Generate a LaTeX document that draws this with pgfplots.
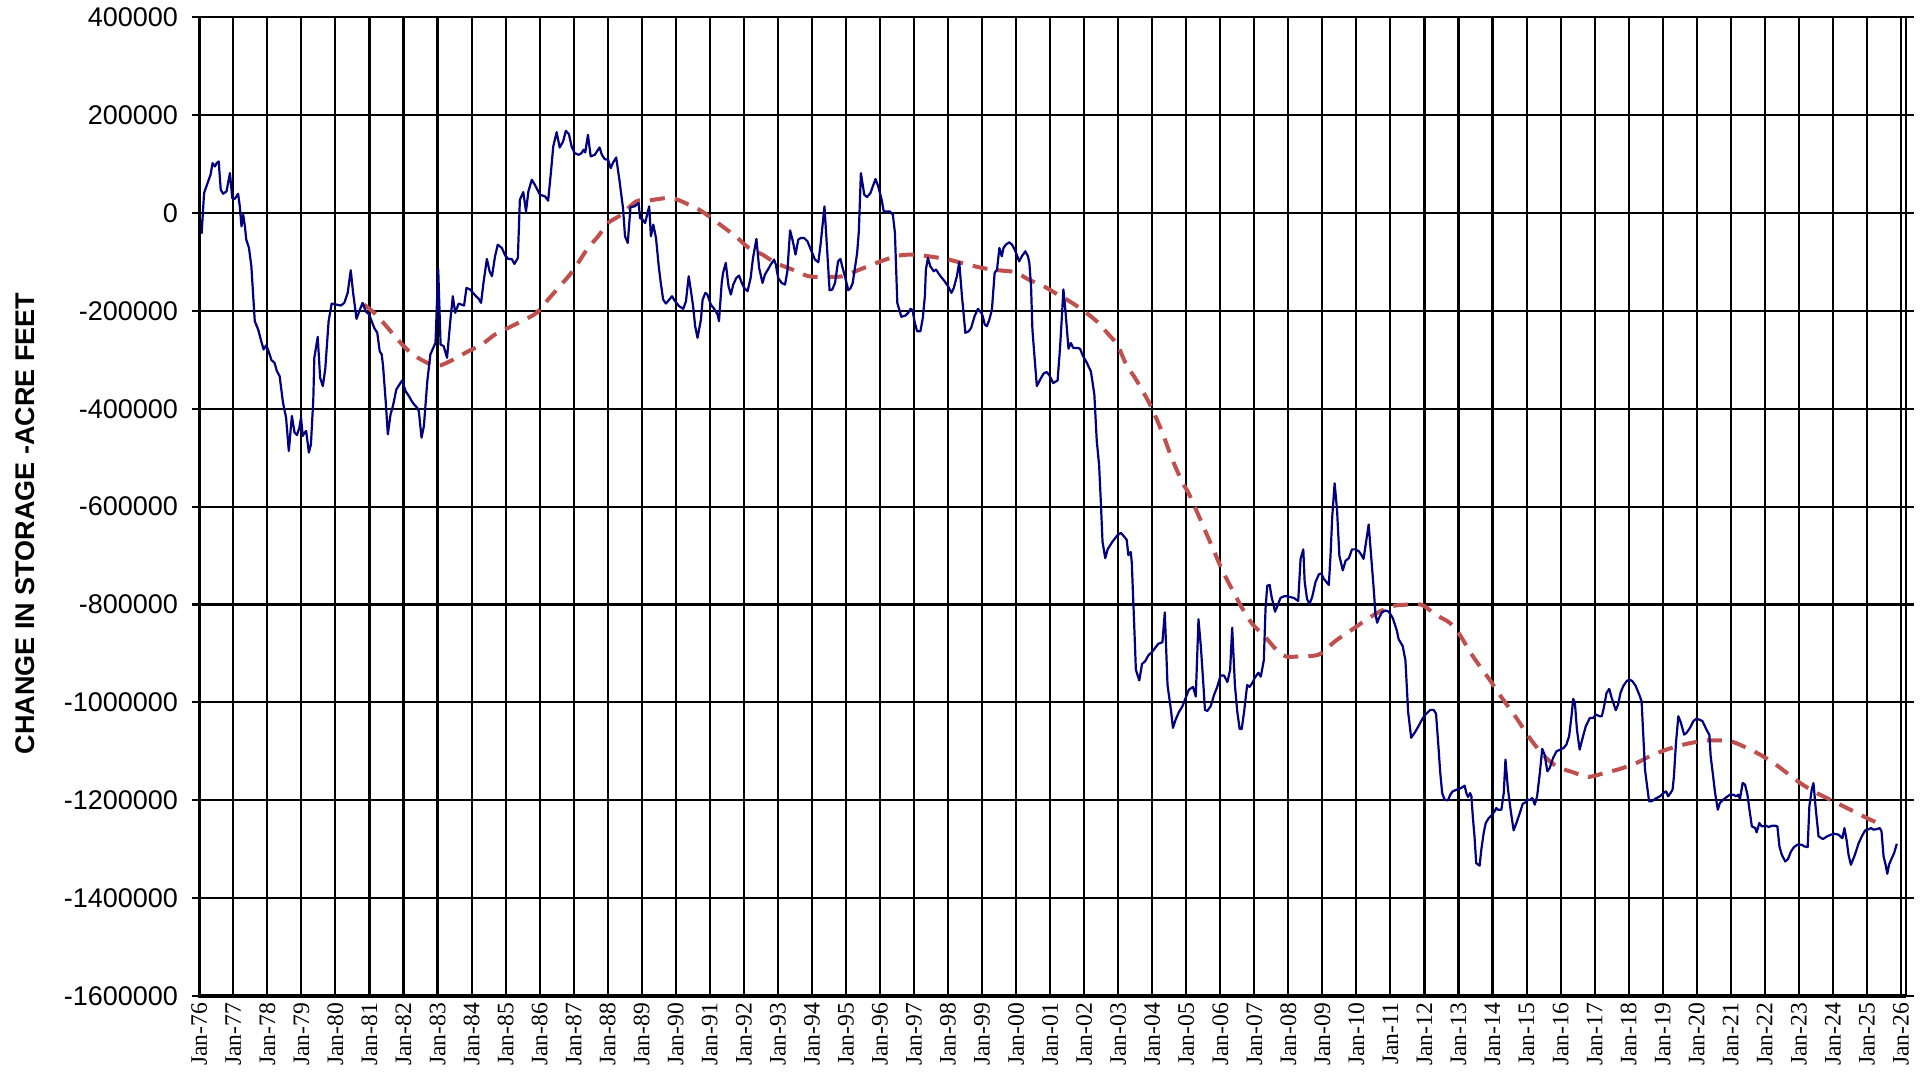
\documentclass[border=0pt]{standalone}
\usepackage{fontspec}
\setmainfont{Liberation Sans}
\newfontfamily\tnr{Liberation Serif}
\usepackage{pgfplots}
\usepackage{pgfplotstable}
\pgfplotsset{compat=1.18}
\definecolor{navyline}{RGB}{0,0,128}
\definecolor{trendred}{RGB}{192,80,77}

\pgfplotstableread{
t v
1976.00 -5000
1976.07 -40800
1976.14 40800
1976.26 64600
1976.33 78200
1976.39 102000
1976.46 95200
1976.51 102000
1976.57 105400
1976.63 47600
1976.70 39400
1976.80 44200
1976.90 81600
1976.97 30600
1977.04 28600
1977.14 39400
1977.19 13600
1977.24 -27200
1977.29 -3400
1977.34 -27200
1977.38 -54400
1977.46 -71400
1977.53 -108800
1977.63 -221000
1977.73 -238000
1977.82 -261800
1977.89 -278800
1977.97 -270000
1978.05 -285600
1978.12 -300600
1978.21 -306000
1978.28 -323000
1978.36 -333200
1978.46 -387600
1978.55 -418200
1978.63 -486200
1978.72 -414800
1978.80 -448800
1978.87 -453600
1978.94 -438600
1978.99 -418200
1979.04 -455600
1979.09 -448800
1979.14 -445400
1979.22 -489600
1979.28 -472600
1979.35 -380800
1979.38 -295800
1979.48 -253000
1979.55 -336600
1979.63 -353600
1979.70 -319600
1979.80 -221000
1979.89 -185000
1980.02 -187000
1980.16 -189000
1980.26 -183600
1980.36 -163200
1980.45 -117000
1980.52 -163200
1980.62 -216200
1980.72 -197200
1980.80 -183600
1980.89 -200600
1980.99 -207400
1981.14 -234600
1981.23 -244800
1981.30 -282200
1981.36 -289000
1981.40 -312800
1981.48 -387600
1981.54 -452200
1981.62 -411400
1981.69 -394400
1981.79 -360400
1981.96 -342000
1982.06 -363800
1982.16 -374000
1982.24 -384200
1982.31 -391000
1982.40 -397800
1982.45 -404600
1982.53 -459000
1982.60 -435200
1982.70 -343400
1982.79 -289000
1982.94 -265200
1983.02 -114200
1983.09 -268600
1983.18 -272000
1983.28 -295800
1983.38 -217600
1983.45 -170000
1983.52 -204000
1983.62 -185000
1983.78 -189000
1983.85 -153000
1983.96 -156400
1984.13 -170000
1984.21 -175400
1984.28 -183600
1984.35 -142800
1984.45 -93800
1984.53 -119000
1984.60 -129200
1984.69 -88400
1984.77 -64600
1984.89 -71400
1984.99 -87000
1985.08 -93800
1985.18 -93800
1985.26 -104000
1985.36 -91800
1985.42 27200
1985.52 42800
1985.60 3400
1985.67 44200
1985.77 68000
1985.86 57800
1986.01 37400
1986.16 34000
1986.25 25200
1986.33 81600
1986.40 136000
1986.50 165200
1986.59 134000
1986.69 146200
1986.77 168000
1986.86 161200
1986.94 136000
1987.03 122400
1987.15 119000
1987.23 122400
1987.29 129200
1987.34 123800
1987.42 159800
1987.50 115600
1987.62 119000
1987.76 134000
1987.83 119000
1987.91 110200
1988.01 108800
1988.09 91800
1988.15 102000
1988.25 113600
1988.35 64600
1988.45 10200
1988.51 -47600
1988.59 -61200
1988.67 12200
1988.79 13600
1988.91 20400
1988.95 -10200
1989.03 -13600
1989.10 -20400
1989.17 0
1989.22 13600
1989.27 -47600
1989.34 -23800
1989.42 -51000
1989.50 -108800
1989.56 -142800
1989.63 -176800
1989.71 -185000
1989.81 -176800
1989.89 -170000
1989.98 -180200
1990.10 -190400
1990.22 -195800
1990.30 -180200
1990.38 -129200
1990.44 -156400
1990.51 -190400
1990.57 -231200
1990.64 -255000
1990.74 -217600
1990.79 -176800
1990.87 -163200
1990.93 -166600
1991.03 -187000
1991.13 -195800
1991.23 -207400
1991.27 -221000
1991.35 -142800
1991.39 -122400
1991.47 -102000
1991.55 -149600
1991.62 -166600
1991.69 -146200
1991.78 -132600
1991.86 -127800
1991.94 -142800
1992.01 -153000
1992.11 -159800
1992.20 -132600
1992.27 -91800
1992.37 -53000
1992.45 -112200
1992.55 -142800
1992.62 -125800
1992.72 -114200
1992.79 -105400
1992.89 -95200
1992.94 -105400
1993.01 -132600
1993.11 -142800
1993.21 -146200
1993.28 -119000
1993.36 -35400
1993.43 -54400
1993.52 -85000
1993.60 -54400
1993.67 -51000
1993.77 -51000
1993.87 -57800
1993.93 -68000
1994.01 -81600
1994.09 -95200
1994.19 -100600
1994.26 -61200
1994.32 -20400
1994.37 13600
1994.43 -54400
1994.52 -157800
1994.60 -156400
1994.68 -142800
1994.77 -98600
1994.84 -93800
1994.89 -108800
1994.97 -129200
1995.07 -157800
1995.14 -153000
1995.20 -142800
1995.33 -81600
1995.38 -37400
1995.44 81600
1995.54 37400
1995.62 32600
1995.72 40800
1995.79 54400
1995.87 69400
1995.95 54400
1996.05 27200
1996.11 3400
1996.19 3400
1996.29 3400
1996.38 -3400
1996.44 -40800
1996.51 -183600
1996.63 -212200
1996.75 -209400
1996.83 -204000
1996.90 -195800
1996.96 -198600
1997.02 -223000
1997.09 -241400
1997.19 -241400
1997.26 -214200
1997.32 -170000
1997.35 -115600
1997.41 -91800
1997.48 -108800
1997.58 -119000
1997.65 -115600
1997.73 -124400
1997.82 -132600
1997.90 -139400
1998.00 -149600
1998.10 -163200
1998.17 -153000
1998.26 -129200
1998.33 -100600
1998.41 -170000
1998.51 -244800
1998.61 -241400
1998.68 -234600
1998.78 -210800
1998.88 -195800
1998.98 -204000
1999.02 -210800
1999.08 -227800
1999.14 -231200
1999.21 -219000
1999.29 -197200
1999.37 -122400
1999.44 -115600
1999.51 -71400
1999.58 -88400
1999.63 -71400
1999.70 -64600
1999.80 -59800
1999.88 -64600
1999.96 -74800
2000.02 -85000
2000.09 -98600
2000.17 -88400
2000.27 -78200
2000.35 -88400
2000.39 -102000
2000.44 -149600
2000.48 -238000
2000.54 -292400
2000.61 -353600
2000.71 -340000
2000.81 -327800
2000.90 -325000
2000.98 -331900
2001.09 -347500
2001.22 -342100
2001.29 -277300
2001.35 -207000
2001.39 -156200
2001.45 -199200
2001.54 -277300
2001.61 -265500
2001.68 -275700
2001.81 -275700
2001.88 -277300
2001.96 -291300
2002.07 -304600
2002.20 -324100
2002.30 -371000
2002.37 -464700
2002.44 -515500
2002.49 -589700
2002.54 -671700
2002.62 -705200
2002.69 -687300
2002.83 -671700
2002.98 -658400
2003.08 -653700
2003.18 -661500
2003.25 -667800
2003.30 -699000
2003.37 -692700
2003.40 -714600
2003.47 -839600
2003.52 -933300
2003.62 -955200
2003.70 -921600
2003.79 -916100
2003.89 -903600
2004.01 -895800
2004.11 -886400
2004.18 -880200
2004.30 -877100
2004.37 -816100
2004.45 -964500
2004.55 -1015300
2004.61 -1052000
2004.69 -1034800
2004.79 -1019200
2004.89 -1007500
2004.99 -989500
2005.08 -973900
2005.20 -968400
2005.28 -988000
2005.36 -830200
2005.43 -886400
2005.49 -948900
2005.55 -1015300
2005.62 -1017600
2005.72 -1007500
2005.82 -984100
2005.91 -968400
2006.01 -945000
2006.11 -945000
2006.21 -958300
2006.29 -933300
2006.35 -847400
2006.43 -964500
2006.50 -1019200
2006.57 -1054400
2006.63 -1054400
2006.70 -1019200
2006.79 -964500
2006.86 -968400
2006.94 -960600
2007.02 -948900
2007.12 -939500
2007.19 -947400
2007.28 -913800
2007.33 -808300
2007.38 -761500
2007.45 -759900
2007.51 -784900
2007.61 -814600
2007.67 -804400
2007.77 -786500
2007.87 -783300
2007.97 -783300
2008.06 -784900
2008.16 -786500
2008.29 -792700
2008.36 -706800
2008.44 -687300
2008.48 -753700
2008.55 -788800
2008.62 -799000
2008.70 -784900
2008.80 -753700
2008.90 -738000
2008.97 -736500
2009.04 -747400
2009.19 -759900
2009.24 -699000
2009.29 -620900
2009.36 -552200
2009.43 -605300
2009.50 -700600
2009.60 -730200
2009.68 -710700
2009.78 -705200
2009.87 -687300
2009.97 -687300
2010.07 -691200
2010.15 -699000
2010.21 -706800
2010.26 -683400
2010.36 -636500
2010.44 -706800
2010.51 -769300
2010.56 -820100
2010.61 -837200
2010.66 -827900
2010.75 -816100
2010.85 -812200
2010.95 -814600
2011.07 -827900
2011.19 -853600
2011.24 -870800
2011.36 -884900
2011.44 -913800
2011.52 -1019200
2011.61 -1072300
2011.71 -1062200
2011.81 -1050400
2011.93 -1034800
2012.02 -1025500
2012.17 -1015300
2012.27 -1015300
2012.34 -1023100
2012.41 -1089500
2012.46 -1140800
2012.52 -1185100
2012.59 -1198800
2012.69 -1200200
2012.76 -1188600
2012.83 -1181700
2012.95 -1178300
2013.08 -1174900
2013.18 -1170200
2013.23 -1185200
2013.28 -1193300
2013.34 -1185200
2013.38 -1192000
2013.42 -1232900
2013.47 -1273800
2013.52 -1328400
2013.62 -1333800
2013.67 -1301100
2013.74 -1267000
2013.80 -1246500
2013.89 -1236300
2013.99 -1229500
2014.06 -1222700
2014.11 -1215800
2014.16 -1219300
2014.26 -1219300
2014.33 -1185200
2014.38 -1117000
2014.45 -1174900
2014.53 -1219300
2014.62 -1261500
2014.72 -1243100
2014.80 -1226100
2014.89 -1207000
2014.97 -1204300
2015.04 -1198800
2015.11 -1198800
2015.17 -1195400
2015.24 -1209000
2015.31 -1192000
2015.39 -1144200
2015.46 -1095100
2015.53 -1106700
2015.61 -1140800
2015.68 -1134000
2015.78 -1113500
2015.88 -1099900
2015.99 -1096500
2016.09 -1093100
2016.17 -1086300
2016.25 -1069200
2016.32 -1028300
2016.37 -992800
2016.42 -1001000
2016.48 -1055600
2016.56 -1096500
2016.66 -1069200
2016.74 -1048800
2016.86 -1031700
2016.96 -1031700
2017.03 -1024900
2017.15 -1028300
2017.21 -1028300
2017.27 -1011200
2017.35 -980600
2017.43 -972400
2017.50 -990800
2017.62 -1016000
2017.69 -1004400
2017.76 -980600
2017.84 -966900
2017.94 -956700
2018.02 -953300
2018.11 -956700
2018.21 -966900
2018.31 -984000
2018.38 -997600
2018.48 -1137400
2018.53 -1164700
2018.60 -1202200
2018.67 -1202200
2018.82 -1195400
2018.92 -1192000
2019.02 -1185200
2019.10 -1181700
2019.16 -1192000
2019.23 -1185200
2019.29 -1178300
2019.33 -1151100
2019.39 -1082900
2019.46 -1028300
2019.53 -1040600
2019.63 -1065800
2019.70 -1062400
2019.80 -1052200
2019.90 -1038500
2019.98 -1033800
2020.08 -1035100
2020.17 -1038500
2020.24 -1048800
2020.31 -1059000
2020.37 -1065800
2020.41 -1110100
2020.47 -1144200
2020.54 -1185200
2020.62 -1219300
2020.68 -1205600
2020.78 -1198800
2020.88 -1193300
2020.98 -1188600
2021.08 -1188600
2021.16 -1192000
2021.22 -1188600
2021.27 -1197400
2021.35 -1164700
2021.42 -1168100
2021.49 -1188600
2021.55 -1219300
2021.62 -1253400
2021.72 -1256800
2021.76 -1265600
2021.84 -1246500
2021.91 -1253400
2022.04 -1252000
2022.11 -1254700
2022.21 -1252000
2022.30 -1252000
2022.37 -1253400
2022.43 -1294300
2022.50 -1311300
2022.60 -1325000
2022.68 -1320200
2022.77 -1304500
2022.86 -1295600
2022.96 -1290900
2023.09 -1290900
2023.16 -1294300
2023.26 -1295600
2023.31 -1212400
2023.38 -1178300
2023.43 -1164700
2023.50 -1219300
2023.58 -1273800
2023.71 -1279300
2023.83 -1273800
2023.94 -1270400
2024.04 -1268400
2024.17 -1270400
2024.24 -1275200
2024.28 -1277300
2024.34 -1256800
2024.41 -1284000
2024.46 -1311300
2024.53 -1331800
2024.63 -1314700
2024.76 -1287400
2024.86 -1272400
2024.95 -1261500
2025.02 -1260200
2025.12 -1256800
2025.20 -1260200
2025.30 -1258800
2025.38 -1256800
2025.43 -1263600
2025.49 -1314700
2025.55 -1331800
2025.60 -1350200
2025.65 -1331800
2025.72 -1320200
2025.80 -1308000
2025.88 -1288900
}\storage

\pgfplotstableread{
t v
1980.84 -187000
1981.19 -207400
1981.58 -238000
1981.87 -261800
1982.24 -287000
1982.60 -302600
1982.99 -312800
1983.43 -300600
1983.91 -282200
1984.30 -268600
1984.69 -248200
1985.08 -234600
1985.47 -221000
1985.91 -204000
1986.25 -176800
1986.55 -153000
1986.89 -125800
1987.13 -102000
1987.42 -71400
1987.72 -47600
1988.01 -20400
1988.40 -3400
1988.84 23800
1989.22 25800
1989.71 30600
1990.00 28600
1990.39 17000
1990.69 6800
1990.98 -6800
1991.37 -27200
1991.76 -47600
1992.15 -71400
1992.55 -85000
1992.94 -102000
1993.43 -115600
1993.91 -129200
1994.50 -130600
1994.89 -129200
1995.28 -119000
1995.77 -105400
1996.16 -95200
1996.55 -87000
1996.94 -85000
1997.43 -88400
1998.02 -95200
1998.51 -104000
1999.00 -112200
1999.49 -117000
1999.97 -121000
2000.37 -136000
2000.81 -149600
2001.22 -166400
2001.61 -182000
2002.00 -200700
2002.39 -222600
2002.74 -249900
2002.98 -269400
2003.23 -308500
2003.52 -339700
2003.81 -374900
2004.01 -402200
2004.30 -449100
2004.59 -503700
2004.89 -550600
2005.08 -574000
2005.38 -620900
2005.77 -683400
2006.06 -730200
2006.35 -769300
2006.65 -808300
2006.94 -839600
2007.33 -866900
2007.62 -890300
2007.92 -906000
2008.31 -906000
2008.90 -902100
2009.38 -874700
2009.87 -851300
2010.36 -827900
2010.75 -812200
2011.14 -802100
2011.43 -800500
2011.92 -800500
2012.31 -820100
2012.74 -837300
2013.03 -861200
2013.42 -905500
2013.91 -953300
2014.31 -994200
2014.70 -1031700
2015.09 -1072600
2015.48 -1106700
2015.88 -1130600
2016.37 -1142900
2016.81 -1152400
2017.35 -1142900
2017.74 -1136100
2018.23 -1123800
2018.62 -1110100
2019.11 -1096500
2019.61 -1086300
2020.10 -1079400
2020.44 -1077400
2020.98 -1079400
2021.37 -1089700
2021.86 -1106700
2022.26 -1123800
2022.65 -1144200
2023.04 -1164700
2023.43 -1181700
2023.92 -1198800
2024.41 -1215800
2025.00 -1236300
2025.49 -1252000
}\trend

\begin{document}
\begin{tikzpicture}
\path[use as bounding box] (-99.65pt,-40pt) rectangle (862.85pt,498pt);
\begin{axis}[
  at={(0,0)}, anchor=south west,
  scale only axis, width=853.35pt, height=489.35pt,
  xmin=1976, xmax=2026.15, ymin=-1600000, ymax=400000,
  xtick={1976,1977,1978,1979,1980,1981,1982,1983,1984,1985,1986,1987,1988,1989,1990,1991,1992,1993,1994,1995,1996,1997,1998,1999,2000,2001,2002,2003,2004,2005,2006,2007,2008,2009,2010,2011,2012,2013,2014,2015,2016,2017,2018,2019,2020,2021,2022,2023,2024,2025,2026},
  xticklabels={Jan-76,Jan-77,Jan-78,Jan-79,Jan-80,Jan-81,Jan-82,Jan-83,Jan-84,Jan-85,Jan-86,Jan-87,Jan-88,Jan-89,Jan-90,Jan-91,Jan-92,Jan-93,Jan-94,Jan-95,Jan-96,Jan-97,Jan-98,Jan-99,Jan-00,Jan-01,Jan-02,Jan-03,Jan-04,Jan-05,Jan-06,Jan-07,Jan-08,Jan-09,Jan-10,Jan-11,Jan-12,Jan-13,Jan-14,Jan-15,Jan-16,Jan-17,Jan-18,Jan-19,Jan-20,Jan-21,Jan-22,Jan-23,Jan-24,Jan-25,Jan-26},
  ytick={-1600000,-1400000,-1200000,-1000000,-800000,-600000,-400000,-200000,0,200000,400000},
  yticklabels={-1600000,-1400000,-1200000,-1000000,-800000,-600000,-400000,-200000,0,200000,400000},
  scaled y ticks=false, scaled x ticks=false,
  grid=major,
  major grid style={black, line width=1.05pt},
  axis line style={black, line width=1.05pt},
  tick align=outside,
  major tick length=3.8pt,
  tick style={black, line width=1.05pt},
  xtick style={draw=none},
  xticklabel style={font=\tnr\fontsize{11.8}{13}\selectfont, rotate=90, anchor=east, inner sep=0pt, xshift=0.6pt},
  yticklabel style={font=\fontsize{13.5}{16}\selectfont, anchor=east, inner sep=0pt, xshift=-6.7pt},
]
\addplot[trendred, line width=2pt, dash pattern=on 7.5pt off 5pt, smooth, tension=0.5] table[x=t, y=v] {\trend};
\addplot[navyline, line width=1.1pt, line join=round] table[x=t, y=v] {\storage};
\end{axis}
\draw[black, line width=1.6pt] (0,489.35pt) -- (0,0) -- (853.35pt,0);
\node[rotate=90, font=\bfseries\fontsize{13.5}{16}\selectfont] at (-87.15pt,236.2pt) {CHANGE IN STORAGE -ACRE FEET};
\end{tikzpicture}
\end{document}
